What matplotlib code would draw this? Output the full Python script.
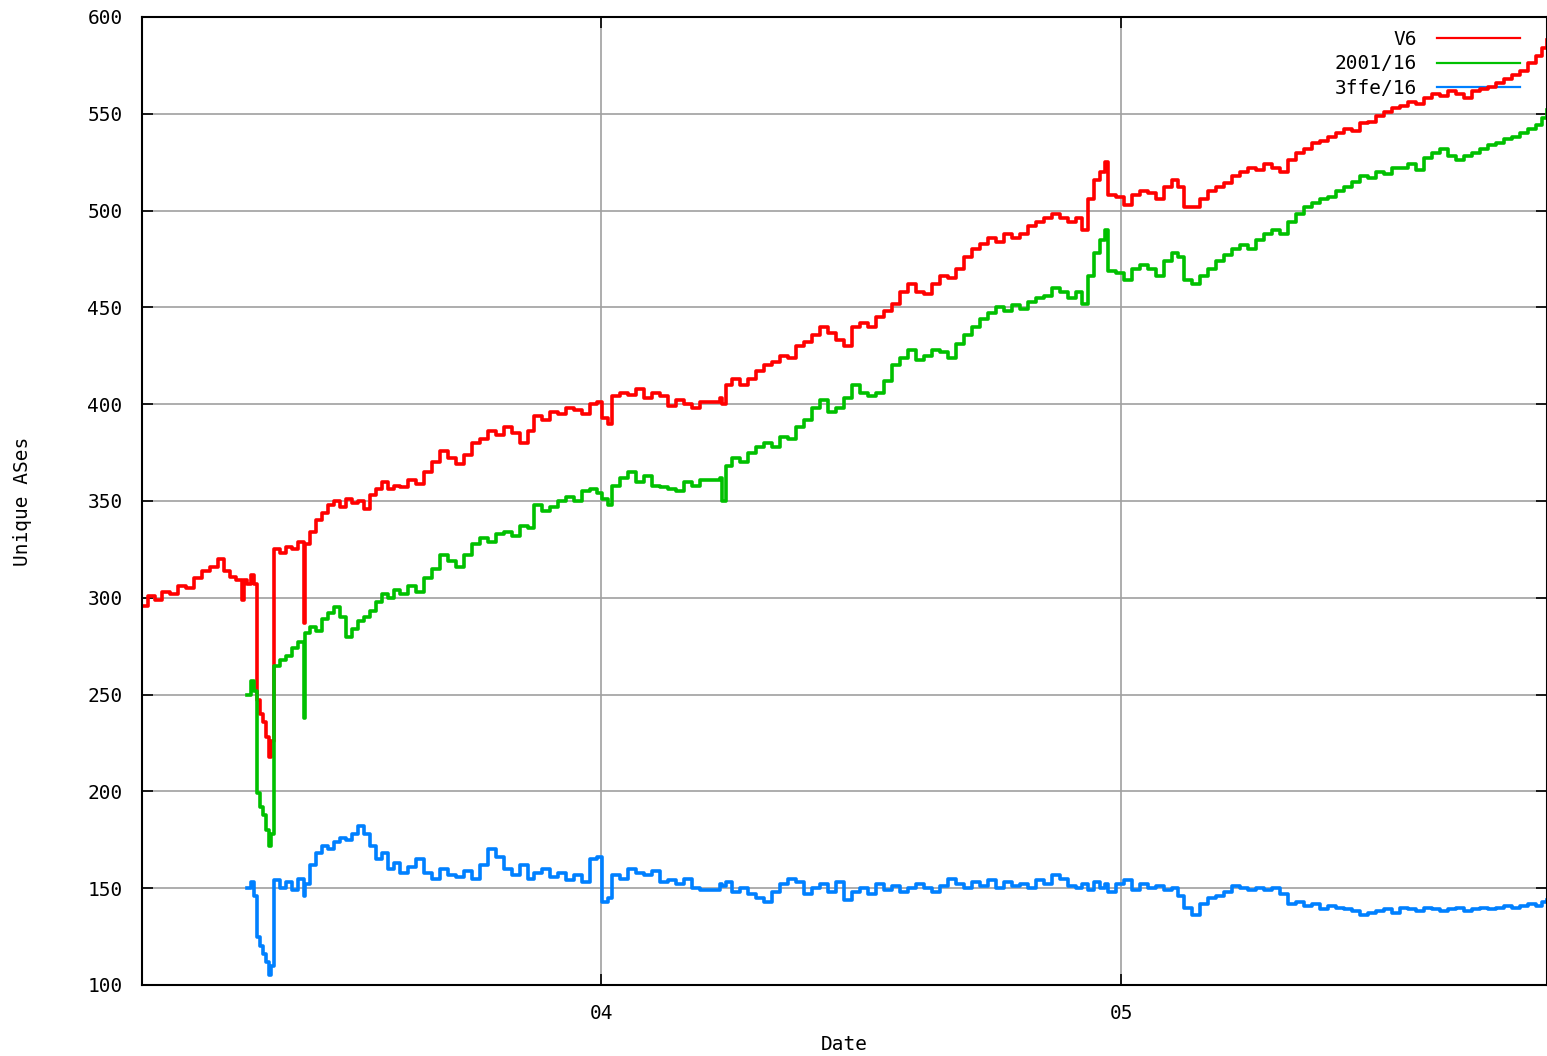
# unique ASes seen in the IPv6 table, per prefix
import numpy as np
import matplotlib
matplotlib.use("Agg")
import matplotlib.pyplot as plt

nan = np.nan

# dates as decimal years
dates = [2003.117, 2003.129, 2003.142, 2003.156, 2003.171, 2003.187, 2003.202, 2003.217,
         2003.233, 2003.248, 2003.263, 2003.275, 2003.287, 2003.298, 2003.310, 2003.313,
         2003.319, 2003.327, 2003.333, 2003.338, 2003.344, 2003.350, 2003.356, 2003.362,
         2003.365, 2003.371, 2003.383, 2003.394, 2003.406, 2003.417, 2003.429, 2003.431,
         2003.440, 2003.452, 2003.463, 2003.475, 2003.487, 2003.498, 2003.510, 2003.521,
         2003.533, 2003.544, 2003.556, 2003.567, 2003.579, 2003.590, 2003.602, 2003.613,
         2003.629, 2003.644, 2003.660, 2003.675, 2003.690, 2003.706, 2003.721, 2003.737,
         2003.752, 2003.767, 2003.783, 2003.798, 2003.813, 2003.829, 2003.844, 2003.860,
         2003.871, 2003.887, 2003.902, 2003.917, 2003.933, 2003.948, 2003.963, 2003.979,
         2003.992, 2004.002, 2004.013, 2004.021, 2004.037, 2004.052, 2004.067, 2004.083,
         2004.098, 2004.113, 2004.129, 2004.144, 2004.160, 2004.175, 2004.190, 2004.213,
         2004.229, 2004.233, 2004.240, 2004.252, 2004.267, 2004.283, 2004.298, 2004.313,
         2004.329, 2004.344, 2004.360, 2004.375, 2004.390, 2004.406, 2004.421, 2004.437,
         2004.452, 2004.467, 2004.483, 2004.498, 2004.513, 2004.529, 2004.544, 2004.560,
         2004.575, 2004.590, 2004.606, 2004.621, 2004.637, 2004.652, 2004.667, 2004.683,
         2004.698, 2004.713, 2004.729, 2004.744, 2004.760, 2004.775, 2004.790, 2004.806,
         2004.821, 2004.837, 2004.852, 2004.867, 2004.883, 2004.898, 2004.913, 2004.925,
         2004.937, 2004.948, 2004.960, 2004.969, 2004.975, 2004.990, 2005.006, 2005.021,
         2005.037, 2005.052, 2005.067, 2005.083, 2005.098, 2005.110, 2005.121, 2005.137,
         2005.152, 2005.167, 2005.183, 2005.198, 2005.213, 2005.229, 2005.244, 2005.260,
         2005.275, 2005.290, 2005.306, 2005.321, 2005.337, 2005.352, 2005.367, 2005.383,
         2005.398, 2005.413, 2005.429, 2005.444, 2005.460, 2005.475, 2005.490, 2005.506,
         2005.521, 2005.537, 2005.552, 2005.567, 2005.583, 2005.598, 2005.613, 2005.629,
         2005.644, 2005.660, 2005.675, 2005.690, 2005.706, 2005.721, 2005.737, 2005.752,
         2005.767, 2005.783, 2005.798, 2005.810, 2005.819]

v6 = [296, 301, 299, 303, 302, 306, 305, 310, 314, 316, 320, 314, 311, 309, 299, 309,
      307, 312, 307, 247, 240, 236, 228, 218, 226, 325, 323, 326, 325, 329, 287, 328,
      334, 340, 344, 348, 350, 347, 351, 349, 350, 346, 353, 356, 360, 356, 358, 357,
      361, 359, 365, 370, 376, 372, 369, 374, 380, 382, 386, 384, 388, 385, 380, 386,
      394, 392, 396, 395, 398, 397, 395, 400, 401, 393, 390, 404, 406, 405, 408, 403,
      406, 404, 399, 402, 400, 398, 401, 401, 403, 400, 410, 413, 410, 413, 417, 420,
      422, 425, 424, 430, 432, 436, 440, 437, 433, 430, 440, 442, 440, 445, 448, 452,
      458, 462, 458, 457, 462, 466, 465, 470, 476, 480, 483, 486, 484, 488, 486, 488,
      492, 494, 496, 498, 496, 494, 496, 490, 506, 516, 520, 525, 508, 507, 503, 508,
      510, 509, 506, 512, 516, 512, 502, 502, 506, 510, 512, 514, 518, 520, 522, 521,
      524, 522, 520, 526, 530, 532, 535, 536, 538, 540, 542, 541, 545, 546, 549, 551,
      553, 554, 556, 555, 558, 560, 559, 562, 560, 558, 562, 563, 564, 566, 568, 570,
      572, 576, 580, 584, 588]

p2001 = [nan] * 16 + [
         250, 257, 252, 199, 192, 188, 180, 172, 178, 265, 268, 270, 274, 277, 238, 282,
         285, 283, 289, 292, 295, 290, 280, 284, 288, 290, 293, 298, 302, 300, 304, 302,
         306, 303, 310, 315, 322, 319, 316, 322, 328, 331, 329, 333, 334, 332, 337, 336,
         348, 345, 347, 350, 352, 350, 355, 356, 354, 351, 348, 358, 362, 365, 360, 363,
         358, 357, 356, 355, 360, 358, 361, 361, 362, 350, 368, 372, 370, 375, 378, 380,
         378, 383, 382, 388, 392, 398, 402, 396, 398, 403, 410, 406, 404, 406, 412, 420,
         424, 428, 423, 425, 428, 427, 424, 431, 436, 440, 444, 447, 450, 448, 451, 449,
         453, 455, 456, 460, 458, 455, 458, 452, 466, 478, 485, 490, 469, 468, 464, 470,
         472, 470, 466, 474, 478, 476, 464, 462, 466, 470, 474, 477, 480, 482, 480, 485,
         488, 490, 488, 494, 498, 502, 504, 506, 507, 510, 512, 515, 518, 517, 520, 519,
         522, 522, 524, 521, 527, 530, 532, 528, 526, 528, 530, 532, 534, 535, 537, 538,
         540, 542, 544, 548, 552]

p3ffe = [nan] * 16 + [
         150, 153, 146, 125, 120, 116, 112, 105, 110, 154, 150, 153, 149, 155, 146, 152,
         162, 168, 172, 170, 174, 176, 175, 178, 182, 178, 172, 165, 168, 160, 163, 158,
         161, 165, 158, 155, 160, 157, 156, 159, 155, 162, 170, 166, 160, 157, 162, 155,
         158, 160, 156, 158, 154, 157, 153, 165, 166, 143, 145, 157, 155, 160, 158, 157,
         159, 153, 154, 152, 155, 150, 149, 149, 152, 151, 153, 148, 150, 147, 145, 143,
         148, 152, 155, 153, 147, 150, 152, 148, 153, 144, 148, 150, 147, 152, 149, 151,
         148, 150, 152, 150, 148, 151, 155, 152, 150, 153, 151, 154, 150, 153, 151, 152,
         150, 154, 152, 157, 155, 151, 150, 152, 149, 153, 150, 152, 148, 152, 154, 149,
         152, 150, 151, 149, 150, 146, 140, 136, 142, 145, 146, 148, 151, 150, 149, 150,
         149, 150, 147, 142, 143, 141, 142, 139, 141, 140, 139, 138, 136, 137, 138, 139,
         137, 140, 139, 138, 140, 139, 138, 139, 140, 138, 139, 140, 139, 140, 141, 140,
         141, 142, 141, 143, 144]

labels = ["V6", "2001/16", "3ffe/16"]
colors = ["#ff0000", "#00c000", "#0080ff"]

mono = "DejaVu Sans Mono"

fig = plt.figure(figsize=(15.47, 10.56), dpi=100)
ax = fig.add_axes([142 / 1547, 1 - 985 / 1056, 1 - 142 / 1547, (985 - 17) / 1056])

for vals, lab, col in zip([v6, p2001, p3ffe], labels, colors):
    ax.plot(dates, vals, color=col, lw=2.6, drawstyle="steps-post", label=lab)

ax.set_xlim(2003.117, 2005.819)
ax.set_ylim(100, 600)
ax.set_yticks(range(100, 601, 50))
ax.set_xticks([2004, 2005])
ax.set_xticklabels(["04", "05"])
ax.grid(True, color="#a0a0a0", lw=1.2)
ax.tick_params(direction="in", length=8, width=1.2, labelsize=14, pad=14,
               top=True, right=True)
for lbl in ax.get_xticklabels() + ax.get_yticklabels():
    lbl.set_family(mono)
for s in ax.spines.values():
    s.set_linewidth(1.5)

ax.set_xlabel("Date", family=mono, fontsize=14, labelpad=8)
ax.set_ylabel("Unique ASes", family=mono, fontsize=14, labelpad=40)

leg = ax.legend(loc="upper right", bbox_to_anchor=(0.981, 0.987), frameon=False,
                markerfirst=False, handlelength=4.3, handletextpad=1.0,
                labelspacing=0.3, borderpad=0, borderaxespad=0,
                prop={"family": mono, "size": 14})
for h in leg.get_lines():
    h.set_linewidth(1.6)
leg.set_zorder(1)

fig.savefig("out.png", dpi=100)
